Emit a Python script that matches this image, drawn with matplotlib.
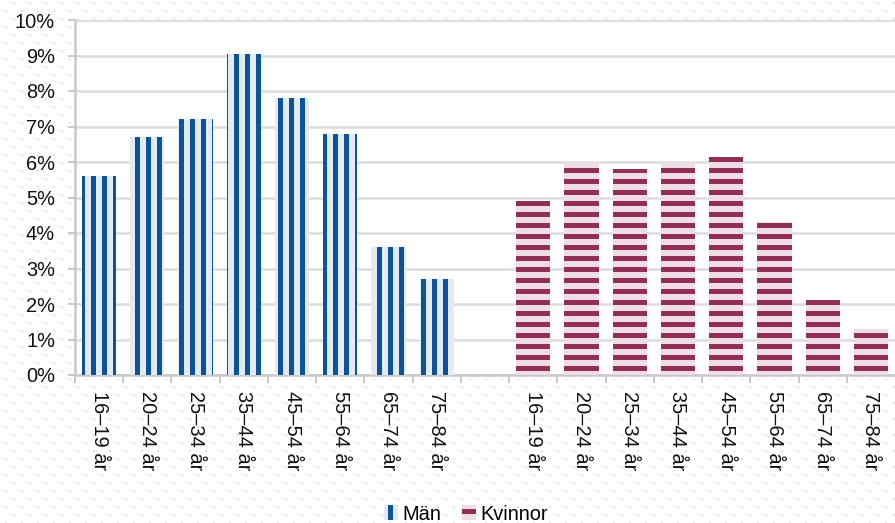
import numpy as np
import matplotlib
matplotlib.use("Agg")
import matplotlib.pyplot as plt
from matplotlib.patches import Patch

# -----------------------
# Data
# -----------------------
age_groups = ["16–19 år", "20–24 år", "25–34 år", "35–44 år",
              "45–54 år", "55–64 år", "65–74 år", "75–84 år"]
men_pct = [5.6, 6.7, 7.2, 9.05, 7.8, 6.8, 3.6, 2.7]
women_pct = [4.9, 6.0, 5.8, 6.0, 6.15, 4.3, 2.1, 1.3]
y_ticks = list(range(0, 11))

# -----------------------
# Setup (dpi 66 so hatch stripes get an ~11 px period)
# -----------------------
DPI = 66
W, H = 895, 523
FS = 20  # text size in pixels


def px(v):
    return v * 72 / DPI


plt.rcParams["font.family"] = ["Liberation Sans", "DejaVu Sans"]
plt.rcParams["hatch.linewidth"] = px(5)

fig = plt.figure(figsize=(W / DPI, H / DPI), dpi=DPI)
fig.patch.set_facecolor("white")

# dotted page background
bg = fig.add_axes([0, 0, 1, 1], zorder=-10)
bg.set_xlim(0, W)
bg.set_ylim(H, 0)
bg.axis("off")
gx, gy = np.meshgrid(np.arange(14, W, 16), np.arange(3, H, 16))
bg.scatter(gx.ravel(), gy.ravel(), s=px(2) ** 2, marker="s", color="#e2e2ea", lw=0)
bg.scatter(gx.ravel() - 8, gy.ravel() + 8, s=px(2) ** 2, marker="s", color="#e2e2ea", lw=0)

ax = fig.add_axes([75 / W, 1 - 375 / H, (W - 75) / W, (375 - 20) / H])
ax.set_facecolor("white")

men_x = np.arange(len(age_groups))
women_x = men_x + len(age_groups) + 1
bar_w = 0.71

ax.bar(men_x, men_pct, width=bar_w, color="#e4e9f2", edgecolor="#0b5499",
       hatch="|", linewidth=0, zorder=3)
ax.bar(women_x, women_pct, width=bar_w, color="#f0dce4", edgecolor="#922f57",
       hatch="-", linewidth=0, zorder=3)

ax.set_xlim(-0.5, 16.5)
ax.set_ylim(0, 10)

ax.set_yticks(y_ticks)
ax.set_yticklabels([f"{t}%" for t in y_ticks], fontsize=px(FS), color="#111111")
ax.grid(axis="y", color="#dcdcdc", linewidth=px(2.5), zorder=0)
ax.tick_params(axis="y", length=px(7), width=px(2), color="#c8c8c8", pad=px(13))

ax.set_xticks(np.concatenate([men_x, women_x]))
ax.set_xticklabels(age_groups + age_groups, rotation=-90, fontsize=px(FS),
                   color="#111111", va="top", ha="center")
ax.set_xticks(np.arange(-0.5, 16.5, 1.0), minor=True)
ax.tick_params(axis="x", which="major", length=0, pad=px(16))
ax.tick_params(axis="x", which="minor", length=px(8), width=px(2), color="#c8c8c8")

for side in ["top", "right"]:
    ax.spines[side].set_visible(False)
for side in ["left", "bottom"]:
    ax.spines[side].set_color("#c8c8c8")
    ax.spines[side].set_linewidth(px(2.5))

handles = [
    Patch(facecolor="#e4e9f2", edgecolor="#0b5499", hatch="|", linewidth=0, label="Män"),
    Patch(facecolor="#f0dce4", edgecolor="#922f57", hatch="-", linewidth=0, label="Kvinnor"),
]
fig.legend(handles=handles, loc="center", bbox_to_anchor=(466 / W, 1 - 514 / H),
           ncol=2, frameon=False, fontsize=px(FS), handlelength=0.7,
           handleheight=0.8, handletextpad=0.25, columnspacing=1.0)

fig.savefig("out.png", dpi=DPI, facecolor="white")
